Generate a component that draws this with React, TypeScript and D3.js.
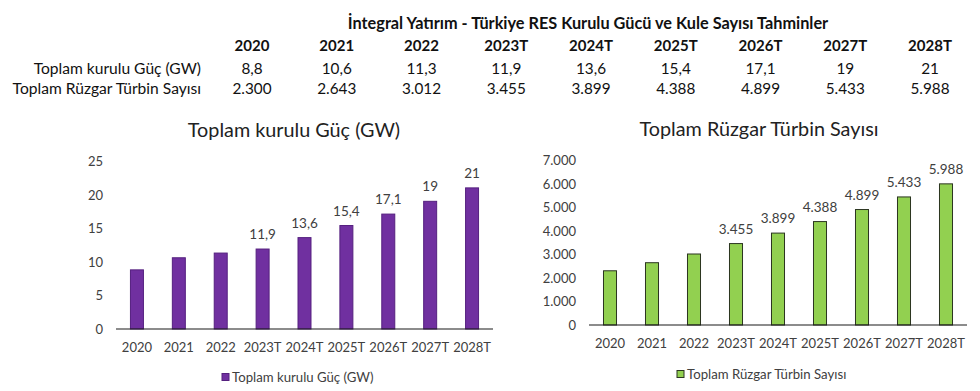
import React from 'react';
import * as d3 from 'd3';

const years = ['2020', '2021', '2022', '2023T', '2024T', '2025T', '2026T', '2027T', '2028T'];
const capacityGW = [8.8, 10.6, 11.3, 11.9, 13.6, 15.4, 17.1, 19, 21];
const turbineCount = [2300, 2643, 3012, 3455, 3899, 4388, 4899, 5433, 5988];
const capacityTicks = [0, 5, 10, 15, 20, 25];
const turbineTicks = [0, 1000, 2000, 3000, 4000, 5000, 6000, 7000];
// labels are shown from 2023T onward
const labelFrom = 3;

const tableTitle = 'İntegral Yatırım - Türkiye RES Kurulu Gücü ve Kule Sayısı Tahminler';
const capacityName = 'Toplam kurulu Güç (GW)';
const turbineName = 'Toplam Rüzgar Türbin Sayısı';

const FONT = 'Lato, "Open Sans", sans-serif';
const TEXT = '#404040';

const fmtGW = (v: number) => String(v).replace('.', ',');
const fmtCount = (v: number) => d3.format(',')(v).replace(/,/g, '.');

type ChartProps = {
  values: number[];
  ticks: number[];
  fmt: (v: number) => string;
  title: string;
  fill: string;
  stroke: string;
  x0: number;
  x1: number;
  yTop: number;
  yBase: number;
  titleX: number;
  titleY: number;
  legendX: number;
  legendY: number;
};

const BarChart = ({ values, ticks, fmt, title, fill, stroke, x0, x1, yTop, yBase, titleX, titleY, legendX, legendY }: ChartProps) => {
  const x = d3.scaleBand<string>().domain(years).range([x0, x1]).paddingInner(0.69).paddingOuter(0.345);
  const y = d3.scaleLinear().domain([0, ticks[ticks.length - 1]]).range([yBase, yTop]);

  return (
    <g fontFamily={FONT}>
      <text x={titleX} y={titleY} textAnchor="middle" dominantBaseline="central" fontSize={19.8} fill="#222">{title}</text>
      {ticks.map(t => (
        <text key={t} x={x0 - 13} y={y(t)} textAnchor="end" dominantBaseline="central" fontSize={13} fill={TEXT}>{fmt(t)}</text>
      ))}
      {values.map((v, i) => (
        <rect key={years[i]} x={x(years[i])} y={y(v)} width={x.bandwidth()} height={yBase - y(v)}
          fill={fill} stroke={stroke} strokeWidth={1} />
      ))}
      {values.map((v, i) => i >= labelFrom ? (
        <text key={'l' + i} x={x(years[i])! + x.bandwidth() / 2} y={y(v) - 15} textAnchor="middle" dominantBaseline="central" fontSize={13.5} fill={TEXT}>{fmt(v)}</text>
      ) : null)}
      <line x1={x0} x2={x1} y1={yBase} y2={yBase} stroke="#1a1a1a" strokeWidth={1.2} />
      {years.map(yr => (
        <text key={yr} x={x(yr)! + x.bandwidth() / 2} y={yBase + 18} textAnchor="middle" dominantBaseline="central" fontSize={13} fill={TEXT}>{yr}</text>
      ))}
      <g>
        <rect x={legendX} y={legendY - 3.5} width={7} height={7} fill={fill} stroke={stroke} strokeWidth={1} />
        <text x={legendX + 10} y={legendY} dominantBaseline="central" fontSize={13.2} fill={TEXT}>{title}</text>
      </g>
    </g>
  );
};

const App = () => {
  const col = d3.scalePoint<string>().domain(years).range([252, 930]);
  return (
    <div style={{ position: 'absolute', left: 0, top: 0 }}>
      <svg width={980} height={391} style={{ display: 'block', background: '#fff' }}>
        <g fontFamily={FONT} fill="#111">
          <text x={588} y={22} textAnchor="middle" dominantBaseline="central" fontSize={16.3} fontWeight="bold">{tableTitle}</text>
          {years.map(yr => (
            <text key={yr} x={col(yr)} y={45} textAnchor="middle" dominantBaseline="central" fontSize={15} fontWeight="bold">{yr}</text>
          ))}
          <text x={201} y={68} textAnchor="end" dominantBaseline="central" fontSize={15.6}>{capacityName}</text>
          <text x={201} y={88} textAnchor="end" dominantBaseline="central" fontSize={15.6}>{turbineName}</text>
          {capacityGW.map((v, i) => (
            <text key={'c' + i} x={col(years[i])} y={68} textAnchor="middle" dominantBaseline="central" fontSize={15.3}>{fmtGW(v)}</text>
          ))}
          {turbineCount.map((v, i) => (
            <text key={'t' + i} x={col(years[i])} y={88} textAnchor="middle" dominantBaseline="central" fontSize={15.3}>{fmtCount(v)}</text>
          ))}
        </g>
        <BarChart values={capacityGW} ticks={capacityTicks} fmt={fmtGW} title={capacityName}
          fill="#7030A0" stroke="#55207f" x0={116} x1={493} yTop={161} yBase={329}
          titleX={294} titleY={129} legendX={222} legendY={377} />
        <BarChart values={turbineCount} ticks={turbineTicks} fmt={fmtCount} title={turbineName}
          fill="#92D050" stroke="#2b3520" x0={589} x1={967} yTop={160} yBase={325}
          titleX={759} titleY={128} legendX={677} legendY={374} />
      </svg>
    </div>
  );
};

export default App;
